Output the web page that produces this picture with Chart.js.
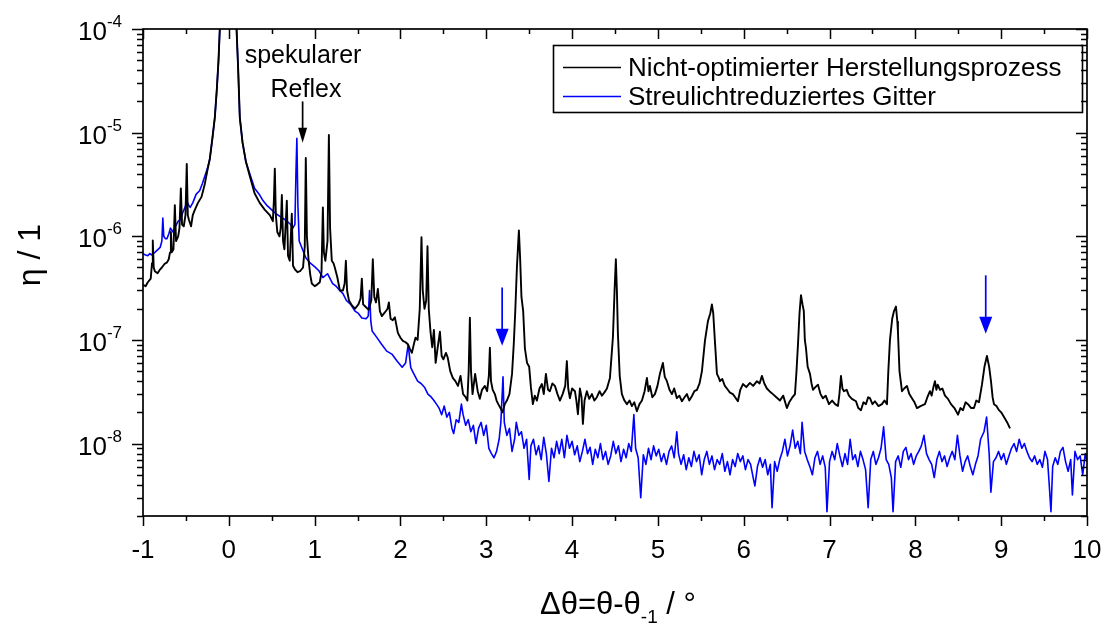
<!DOCTYPE html>
<html>
<head>
<meta charset="utf-8">
<script src="https://cdn.jsdelivr.net/npm/chart.js@4.4.1/dist/chart.umd.min.js"></script>
<style>
    html, body { margin: 0; padding: 0; background: #fff; }
    #wrap { width: 1109px; height: 626px; position: relative; }
</style>
</head>
<body>
<div id="wrap"><canvas id="eta-chart"></canvas></div>
<script>
// Messreihen: [Δθ in °, η]
const nichtOptimiert = [
    [-1.00, 3.4e-7], [-0.97, 3.3e-7], [-0.944, 3.6e-7], [-0.91, 3.9e-7], [-0.895, 5.5e-7],
    [-0.886, 9.1e-7], [-0.875, 5.0e-7], [-0.862, 4.6e-7], [-0.83, 4.4e-7], [-0.80, 4.8e-7],
    [-0.78, 5.0e-7], [-0.75, 5.4e-7], [-0.72, 5.6e-7], [-0.70, 6.0e-7], [-0.685, 7.0e-7],
    [-0.675, 1.1e-6], [-0.665, 7.0e-7], [-0.645, 7.5e-7], [-0.629, 2.0e-6], [-0.615, 9.0e-7],
    [-0.59, 1.0e-6], [-0.575, 1.2e-6], [-0.559, 2.9e-6], [-0.545, 1.3e-6], [-0.525, 1.25e-6],
    [-0.505, 1.6e-6], [-0.49, 5.0e-6], [-0.478, 1.6e-6], [-0.466, 1.45e-6], [-0.44, 1.25e-6],
    [-0.42, 1.6e-6], [-0.396, 1.8e-6], [-0.36, 2.1e-6], [-0.318, 2.4e-6], [-0.28, 3.2e-6],
    [-0.25, 4.3e-6], [-0.221, 5.6e-6], [-0.19, 9.0e-6], [-0.163, 1.4e-5], [-0.14, 2.6e-5],
    [-0.12, 5.0e-5], [-0.105, 1.0e-4], [-0.06, 3.0e-4], [0.0, 6.0e-4], [0.05, 3.0e-4],
    [0.09, 1.0e-4], [0.108, 4.3e-5], [0.128, 1.4e-5], [0.16, 8.0e-6], [0.2, 5.2e-6],
    [0.245, 3.8e-6], [0.30, 2.6e-6], [0.36, 2.1e-6], [0.42, 1.8e-6], [0.478, 1.6e-6],
    [0.513, 1.4e-6], [0.525, 2.2e-6], [0.536, 4.5e-6], [0.548, 1.6e-6], [0.565, 1.1e-6],
    [0.59, 1.0e-6], [0.605, 1.2e-6], [0.618, 2.5e-6], [0.632, 9.0e-7], [0.648, 7.5e-7],
    [0.676, 2.2e-6], [0.69, 6.5e-7], [0.71, 5.8e-7], [0.734, 1.65e-6], [0.748, 5.2e-7],
    [0.77, 4.8e-7], [0.80, 4.5e-7], [0.83, 4.6e-7], [0.865, 5.0e-7], [0.885, 8.0e-7],
    [0.897, 5.7e-6], [0.91, 1.0e-6], [0.93, 5.8e-7], [0.95, 4.2e-7], [0.967, 3.5e-7],
    [1.00, 3.3e-7], [1.026, 3.4e-7], [1.06, 3.6e-7], [1.08, 4.5e-7], [1.096, 1.9e-6],
    [1.108, 7.0e-7], [1.125, 5.8e-7], [1.15, 9.0e-7], [1.166, 9.5e-6], [1.18, 1.2e-6],
    [1.20, 5.8e-7], [1.22, 5.5e-7], [1.235, 5.0e-7], [1.265, 4.0e-7], [1.294, 3.0e-7],
    [1.33, 3.0e-7], [1.35, 3.5e-7], [1.364, 5.8e-7], [1.378, 3.0e-7], [1.40, 2.4e-7],
    [1.434, 2.15e-7], [1.47, 2.0e-7], [1.51, 2.2e-7], [1.535, 2.5e-7], [1.55, 3.9e-7],
    [1.565, 2.2e-7], [1.59, 2.1e-7], [1.63, 1.95e-7], [1.66, 2.4e-7], [1.678, 6.0e-7],
    [1.695, 2.6e-7], [1.715, 2.3e-7], [1.737, 3.1e-7], [1.76, 1.9e-7], [1.783, 1.7e-7],
    [1.82, 1.85e-7], [1.85, 2.0e-7], [1.865, 2.3e-7], [1.885, 1.6e-7], [1.91, 1.55e-7],
    [1.935, 1.65e-7], [1.97, 1.17e-7], [2.00, 1.05e-7], [2.028, 9.8e-8], [2.06, 9.5e-8],
    [2.086, 9.1e-8], [2.11, 8.2e-8], [2.133, 7.5e-8], [2.155, 9.0e-8], [2.175, 1.05e-7],
    [2.20, 1.0e-7], [2.225, 2.0e-7], [2.245, 9.8e-7], [2.26, 3.0e-7], [2.28, 2.0e-7],
    [2.30, 2.4e-7], [2.315, 8.0e-7], [2.33, 2.0e-7], [2.35, 1.2e-7], [2.37, 8.5e-8],
    [2.39, 1.25e-7], [2.41, 6.0e-8], [2.43, 8.0e-8], [2.46, 1.2e-7], [2.48, 7.0e-8],
    [2.50, 6.5e-8], [2.53, 7.5e-8], [2.55, 6.8e-8], [2.58, 5.0e-8], [2.61, 4.3e-8],
    [2.64, 4.0e-8], [2.67, 3.6e-8], [2.70, 4.5e-8], [2.73, 3.0e-8], [2.76, 2.8e-8],
    [2.78, 2.6e-8], [2.795, 5.0e-8], [2.809, 1.64e-7], [2.822, 5.0e-8], [2.84, 3.0e-8],
    [2.87, 4.7e-8], [2.90, 3.2e-8], [2.925, 2.7e-8], [2.95, 3.3e-8], [2.984, 3.6e-8],
    [3.01, 3.2e-8], [3.03, 4.5e-8], [3.042, 8.4e-8], [3.055, 4.0e-8], [3.075, 3.3e-8],
    [3.10, 3.0e-8], [3.12, 2.6e-8], [3.14, 2.4e-8], [3.165, 2.2e-8], [3.19, 2.0e-8],
    [3.215, 2.4e-8], [3.24, 2.6e-8], [3.27, 3.0e-8], [3.30, 4.7e-8], [3.32, 9.0e-8],
    [3.338, 1.9e-7], [3.357, 5.0e-7], [3.38, 1.14e-6], [3.395, 6.0e-7], [3.41, 2.6e-7],
    [3.43, 1.9e-7], [3.45, 8.3e-8], [3.475, 6.0e-8], [3.50, 5.5e-8], [3.52, 3.5e-8],
    [3.543, 2.4e-8], [3.565, 2.9e-8], [3.59, 2.6e-8], [3.62, 3.4e-8], [3.648, 3.75e-8],
    [3.67, 3.0e-8], [3.695, 4.7e-8], [3.72, 3.3e-8], [3.741, 3.2e-8], [3.77, 3.8e-8],
    [3.80, 3.6e-8], [3.83, 3.0e-8], [3.858, 2.6e-8], [3.89, 3.0e-8], [3.92, 3.6e-8],
    [3.939, 6.25e-8], [3.955, 3.4e-8], [3.974, 2.74e-8], [4.00, 3.4e-8], [4.033, 3.2e-8],
    [4.05, 2.6e-8], [4.068, 1.92e-8], [4.091, 3.4e-8], [4.11, 2.8e-8], [4.126, 1.55e-8],
    [4.145, 2.6e-8], [4.172, 3.2e-8], [4.20, 2.7e-8], [4.231, 3.0e-8], [4.26, 2.6e-8],
    [4.289, 2.8e-8], [4.32, 3.2e-8], [4.347, 2.9e-8], [4.375, 3.1e-8], [4.406, 3.4e-8],
    [4.441, 4.3e-8], [4.476, 1.07e-7], [4.495, 3.0e-7], [4.510, 6.0e-7], [4.522, 3.0e-7],
    [4.534, 1.14e-7], [4.555, 4.5e-8], [4.58, 3.0e-8], [4.61, 2.6e-8], [4.639, 2.4e-8],
    [4.67, 2.6e-8], [4.697, 2.3e-8], [4.725, 2.5e-8], [4.755, 2.05e-8], [4.785, 2.4e-8],
    [4.814, 2.6e-8], [4.845, 3.2e-8], [4.872, 4.3e-8], [4.89, 3.2e-8], [4.907, 3.6e-8],
    [4.935, 2.8e-8], [4.965, 3.0e-8], [4.995, 3.6e-8], [5.023, 4.7e-8], [5.058, 6.0e-8],
    [5.08, 4.4e-8], [5.105, 4.0e-8], [5.135, 3.3e-8], [5.163, 3.0e-8], [5.19, 3.4e-8],
    [5.221, 2.74e-8], [5.25, 2.9e-8], [5.28, 2.56e-8], [5.31, 2.8e-8], [5.338, 3.0e-8],
    [5.365, 2.6e-8], [5.396, 2.86e-8], [5.425, 3.2e-8], [5.455, 3.3e-8], [5.485, 3.8e-8],
    [5.513, 5.0e-8], [5.548, 9.8e-8], [5.583, 1.52e-7], [5.61, 1.8e-7], [5.629, 2.2e-7],
    [5.645, 1.8e-7], [5.664, 9.8e-8], [5.688, 4.7e-8], [5.71, 4.3e-8], [5.723, 4.0e-8],
    [5.75, 4.2e-8], [5.78, 3.6e-8], [5.804, 3.4e-8], [5.84, 3.1e-8], [5.874, 3.0e-8],
    [5.90, 2.8e-8], [5.932, 2.56e-8], [5.96, 3.3e-8], [5.991, 3.75e-8], [6.03, 3.5e-8],
    [6.072, 3.85e-8], [6.11, 3.6e-8], [6.154, 4.0e-8], [6.185, 3.8e-8], [6.212, 4.5e-8],
    [6.24, 3.8e-8], [6.27, 3.4e-8], [6.30, 3.2e-8], [6.34, 3.0e-8], [6.38, 2.8e-8],
    [6.422, 2.6e-8], [6.46, 2.9e-8], [6.503, 2.2e-8], [6.53, 2.5e-8], [6.56, 2.74e-8],
    [6.597, 3.0e-8], [6.615, 5.0e-8], [6.632, 9.0e-8], [6.65, 1.8e-7], [6.667, 2.7e-7],
    [6.685, 2.2e-7], [6.70, 1.9e-7], [6.712, 1.0e-7], [6.725, 8.4e-8], [6.745, 5.5e-8],
    [6.772, 4.7e-8], [6.79, 3.8e-8], [6.807, 3.3e-8], [6.835, 3.5e-8], [6.865, 3.7e-8],
    [6.895, 3.0e-8], [6.923, 2.74e-8], [6.955, 2.9e-8], [6.993, 2.4e-8], [7.03, 2.6e-8],
    [7.065, 2.4e-8], [7.098, 2.3e-8], [7.115, 3.0e-8], [7.133, 4.5e-8], [7.15, 3.4e-8],
    [7.168, 3.2e-8], [7.20, 3.3e-8], [7.226, 2.9e-8], [7.26, 2.7e-8], [7.308, 2.56e-8],
    [7.335, 2.2e-8], [7.366, 2.1e-8], [7.395, 2.5e-8], [7.424, 2.4e-8], [7.45, 2.8e-8],
    [7.471, 2.74e-8], [7.50, 2.4e-8], [7.529, 2.56e-8], [7.57, 2.3e-8], [7.611, 2.4e-8],
    [7.64, 2.6e-8], [7.669, 2.4e-8], [7.685, 5.0e-8], [7.704, 1.0e-7], [7.73, 1.6e-7],
    [7.751, 1.9e-7], [7.774, 2.1e-7], [7.79, 1.5e-7], [7.797, 1.2e-7], [7.815, 5.0e-8],
    [7.844, 3.2e-8], [7.87, 3.4e-8], [7.902, 3.6e-8], [7.93, 3.0e-8], [7.96, 2.74e-8],
    [7.99, 2.5e-8], [8.019, 2.2e-8], [8.06, 2.3e-8], [8.112, 2.4e-8], [8.14, 2.8e-8],
    [8.17, 3.2e-8], [8.19, 2.9e-8], [8.21, 3.5e-8], [8.228, 4.0e-8], [8.245, 3.3e-8],
    [8.26, 3.7e-8], [8.287, 3.3e-8], [8.315, 3.4e-8], [8.345, 2.9e-8], [8.38, 2.7e-8],
    [8.415, 2.4e-8], [8.455, 2.2e-8], [8.497, 1.9e-8], [8.525, 2.2e-8], [8.555, 2.1e-8],
    [8.585, 2.5e-8], [8.613, 2.4e-8], [8.65, 2.2e-8], [8.683, 2.2e-8], [8.71, 2.6e-8],
    [8.741, 2.5e-8], [8.776, 3.7e-8], [8.805, 5.5e-8], [8.834, 7.0e-8], [8.86, 5.5e-8],
    [8.881, 4.0e-8], [8.90, 2.8e-8], [8.916, 2.4e-8], [8.945, 2.3e-8], [8.974, 2.1e-8],
    [9.00, 2.0e-8], [9.033, 1.8e-8], [9.07, 1.6e-8], [9.103, 1.4e-8]
];

const streulichtReduziert = [
    [-1.00, 6.8e-7], [-0.97, 6.6e-7], [-0.944, 6.5e-7], [-0.92, 6.8e-7], [-0.90, 6.6e-7],
    [-0.862, 7.0e-7], [-0.83, 7.4e-7], [-0.80, 7.8e-7], [-0.78, 9.0e-7], [-0.769, 1.5e-6],
    [-0.758, 1.0e-6], [-0.74, 9.5e-7], [-0.72, 9.5e-7], [-0.70, 1.05e-6], [-0.68, 1.2e-6],
    [-0.65, 1.1e-6], [-0.62, 1.25e-6], [-0.59, 1.4e-6], [-0.56, 1.45e-6], [-0.536, 1.7e-6],
    [-0.51, 1.9e-6], [-0.49, 2.2e-6], [-0.47, 2.0e-6], [-0.45, 1.9e-6], [-0.42, 2.1e-6],
    [-0.38, 2.55e-6], [-0.34, 2.75e-6], [-0.31, 3.2e-6], [-0.28, 3.8e-6], [-0.25, 4.5e-6],
    [-0.221, 5.6e-6], [-0.19, 9.0e-6], [-0.163, 1.4e-5], [-0.14, 2.6e-5], [-0.12, 5.0e-5],
    [-0.105, 1.0e-4], [-0.06, 3.0e-4], [0.0, 6.0e-4], [0.05, 3.0e-4], [0.09, 1.0e-4],
    [0.108, 4.3e-5], [0.128, 1.4e-5], [0.16, 8.0e-6], [0.2, 5.2e-6], [0.245, 4.0e-6],
    [0.30, 2.9e-6], [0.36, 2.5e-6], [0.40, 2.2e-6], [0.44, 2.0e-6], [0.50, 1.8e-6],
    [0.55, 1.65e-6], [0.60, 1.55e-6], [0.67, 1.42e-6], [0.72, 1.3e-6], [0.746, 1.2e-6],
    [0.77, 1.3e-6], [0.782, 4.0e-6], [0.793, 8.8e-6], [0.805, 2.0e-6], [0.82, 9.0e-7],
    [0.85, 7.8e-7], [0.897, 6.2e-7], [0.95, 5.5e-7], [1.00, 5.1e-7], [1.05, 4.65e-7],
    [1.096, 4.0e-7], [1.15, 4.35e-7], [1.21, 3.5e-7], [1.25, 3.3e-7], [1.294, 3.0e-7],
    [1.33, 2.8e-7], [1.37, 2.4e-7], [1.42, 2.2e-7], [1.47, 1.9e-7], [1.51, 1.8e-7],
    [1.55, 1.63e-7], [1.60, 1.6e-7], [1.625, 1.7e-7], [1.64, 3.0e-7], [1.655, 1.5e-7],
    [1.67, 1.22e-7], [1.72, 1.07e-7], [1.78, 9.1e-8], [1.84, 7.8e-8], [1.90, 7.3e-8],
    [1.96, 6.25e-8], [2.02, 5.45e-8], [2.06, 6.0e-8], [2.09, 9.0e-8], [2.12, 5.4e-8],
    [2.15, 4.8e-8], [2.20, 4.0e-8], [2.24, 3.8e-8], [2.28, 3.5e-8], [2.32, 3.0e-8],
    [2.36, 2.8e-8], [2.39, 2.6e-8], [2.42, 2.4e-8], [2.45, 2.2e-8], [2.48, 1.9e-8],
    [2.51, 2.3e-8], [2.54, 1.8e-8], [2.57, 2.0e-8], [2.60, 1.4e-8], [2.62, 1.25e-8],
    [2.65, 1.7e-8], [2.68, 1.6e-8], [2.71, 2.4e-8], [2.73, 1.9e-8], [2.76, 1.5e-8],
    [2.79, 1.7e-8], [2.82, 1.3e-8], [2.85, 1.5e-8], [2.88, 1.0e-8], [2.91, 1.4e-8],
    [2.94, 1.6e-8], [2.97, 1.2e-8], [3.00, 1.5e-8], [3.03, 9.0e-9], [3.06, 8.0e-9],
    [3.09, 7.3e-9], [3.12, 8.4e-9], [3.15, 1.1e-8], [3.17, 1.6e-8], [3.195, 4.4e-8],
    [3.21, 1.6e-8], [3.24, 1.2e-8], [3.27, 1.4e-8], [3.30, 8.4e-9], [3.33, 1.1e-8],
    [3.35, 1.6e-8], [3.38, 1.2e-8], [3.41, 1.3e-8], [3.44, 9.0e-9], [3.47, 1.1e-8],
    [3.50, 4.5e-9], [3.52, 9.5e-9], [3.55, 1.1e-8], [3.58, 7.8e-9], [3.61, 9.5e-9],
    [3.64, 7.0e-9], [3.67, 1.15e-8], [3.70, 8.0e-9], [3.73, 4.3e-9], [3.76, 9.0e-9],
    [3.79, 7.3e-9], [3.82, 1.05e-8], [3.85, 8.0e-9], [3.88, 1.1e-8], [3.91, 7.3e-9],
    [3.94, 1.2e-8], [3.97, 9.0e-9], [4.00, 1.05e-8], [4.03, 7.8e-9], [4.06, 9.5e-9],
    [4.09, 6.7e-9], [4.12, 8.4e-9], [4.15, 1.1e-8], [4.18, 8.0e-9], [4.21, 9.2e-9],
    [4.24, 6.3e-9], [4.27, 8.8e-9], [4.30, 7.3e-9], [4.33, 1.0e-8], [4.36, 7.0e-9],
    [4.39, 8.4e-9], [4.42, 6.3e-9], [4.45, 7.6e-9], [4.48, 1.05e-8], [4.51, 8.0e-9],
    [4.54, 9.5e-9], [4.57, 6.7e-9], [4.60, 8.8e-9], [4.63, 7.3e-9], [4.66, 1.0e-8],
    [4.69, 8.4e-9], [4.72, 1.9e-8], [4.74, 9.0e-9], [4.77, 7.3e-9], [4.80, 3.0e-9],
    [4.83, 7.8e-9], [4.86, 6.3e-9], [4.89, 9.0e-9], [4.92, 7.0e-9], [4.95, 9.5e-9],
    [4.98, 7.6e-9], [5.01, 8.8e-9], [5.04, 6.7e-9], [5.07, 8.0e-9], [5.10, 6.3e-9],
    [5.13, 8.4e-9], [5.16, 9.5e-9], [5.19, 7.3e-9], [5.22, 1.3e-8], [5.24, 8.0e-9],
    [5.27, 6.3e-9], [5.30, 7.8e-9], [5.33, 5.6e-9], [5.36, 7.3e-9], [5.39, 6.0e-9],
    [5.42, 8.4e-9], [5.45, 6.7e-9], [5.48, 7.8e-9], [5.51, 5.0e-9], [5.54, 7.0e-9],
    [5.57, 8.4e-9], [5.60, 6.3e-9], [5.63, 7.6e-9], [5.66, 5.6e-9], [5.69, 7.0e-9],
    [5.72, 6.3e-9], [5.75, 8.0e-9], [5.78, 5.4e-9], [5.81, 6.7e-9], [5.84, 5.0e-9],
    [5.87, 7.0e-9], [5.90, 6.0e-9], [5.93, 8.0e-9], [5.96, 6.7e-9], [5.99, 7.6e-9],
    [6.02, 5.6e-9], [6.05, 7.0e-9], [6.08, 6.3e-9], [6.11, 4.7e-9], [6.13, 3.9e-9],
    [6.16, 6.0e-9], [6.19, 7.3e-9], [6.22, 5.9e-9], [6.25, 7.0e-9], [6.28, 5.0e-9],
    [6.31, 6.3e-9], [6.33, 2.4e-9], [6.36, 6.7e-9], [6.39, 5.4e-9], [6.42, 7.0e-9],
    [6.45, 8.4e-9], [6.48, 1.1e-8], [6.51, 7.6e-9], [6.54, 9.5e-9], [6.57, 1.35e-8],
    [6.60, 9.0e-9], [6.63, 1.05e-8], [6.66, 8.0e-9], [6.68, 1.6e-8], [6.71, 8.4e-9],
    [6.74, 7.0e-9], [6.77, 6.0e-9], [6.80, 5.0e-9], [6.83, 7.3e-9], [6.86, 8.4e-9],
    [6.89, 6.3e-9], [6.92, 7.6e-9], [6.95, 5.9e-9], [6.97, 2.2e-9], [7.00, 6.7e-9],
    [7.03, 8.4e-9], [7.06, 7.0e-9], [7.09, 1.0e-8], [7.12, 7.6e-9], [7.15, 6.0e-9],
    [7.18, 8.0e-9], [7.21, 6.3e-9], [7.24, 1.1e-8], [7.27, 7.0e-9], [7.30, 7.8e-9],
    [7.33, 6.0e-9], [7.36, 8.4e-9], [7.39, 7.0e-9], [7.42, 5.6e-9], [7.45, 2.4e-9],
    [7.48, 7.0e-9], [7.51, 8.4e-9], [7.54, 6.3e-9], [7.57, 7.3e-9], [7.60, 9.0e-9],
    [7.63, 1.45e-8], [7.66, 7.0e-9], [7.69, 6.3e-9], [7.72, 4.7e-9], [7.74, 2.2e-9],
    [7.77, 6.7e-9], [7.80, 7.6e-9], [7.83, 5.9e-9], [7.86, 8.4e-9], [7.89, 9.2e-9],
    [7.92, 7.0e-9], [7.95, 8.0e-9], [7.98, 6.3e-9], [8.01, 7.6e-9], [8.04, 8.4e-9],
    [8.07, 9.5e-9], [8.10, 1.2e-8], [8.13, 8.0e-9], [8.16, 7.0e-9], [8.19, 6.3e-9],
    [8.22, 4.7e-9], [8.25, 7.0e-9], [8.28, 8.4e-9], [8.31, 6.7e-9], [8.34, 7.6e-9],
    [8.37, 6.0e-9], [8.40, 7.3e-9], [8.43, 8.4e-9], [8.46, 7.0e-9], [8.49, 1.2e-8],
    [8.52, 7.6e-9], [8.55, 5.4e-9], [8.58, 6.7e-9], [8.61, 7.6e-9], [8.64, 6.0e-9],
    [8.67, 5.0e-9], [8.70, 6.3e-9], [8.73, 7.6e-9], [8.76, 1.1e-8], [8.80, 1.3e-8],
    [8.83, 1.8e-8], [8.86, 8.0e-9], [8.88, 3.4e-9], [8.91, 6.7e-9], [8.94, 7.3e-9],
    [8.97, 8.4e-9], [9.00, 7.0e-9], [9.03, 8.0e-9], [9.06, 6.3e-9], [9.09, 7.6e-9],
    [9.12, 9.0e-9], [9.15, 1.0e-8], [9.18, 8.4e-9], [9.21, 1.1e-8], [9.24, 9.0e-9],
    [9.27, 1.0e-8], [9.30, 8.4e-9], [9.33, 7.3e-9], [9.36, 6.7e-9], [9.39, 7.6e-9],
    [9.42, 6.3e-9], [9.45, 7.0e-9], [9.48, 5.9e-9], [9.51, 8.4e-9], [9.54, 7.0e-9],
    [9.56, 4.0e-9], [9.58, 2.2e-9], [9.60, 6.0e-9], [9.63, 7.3e-9], [9.66, 6.3e-9],
    [9.69, 8.4e-9], [9.72, 9.2e-9], [9.75, 6.7e-9], [9.78, 5.4e-9], [9.81, 7.0e-9],
    [9.83, 3.2e-9], [9.86, 8.4e-9], [9.89, 7.0e-9], [9.92, 7.6e-9], [9.95, 5.0e-9],
    [9.98, 8.0e-9], [10.0, 6.7e-9]
];

const legendLabels = ['Nicht-optimierter Herstellungsprozess', 'Streulichtreduziertes Gitter'];
const xTickLabels = [-1, 0, 1, 2, 3, 4, 5, 6, 7, 8, 9, 10];
const yDecades = [-8, -7, -6, -5, -4];

// Pfeile: x-Position und Anfang/Ende in Datenkoordinaten
const pfeile = [
    { x: 0.86, von: 2.0e-5, bis: 8.0e-6, farbe: '#000000' },
    { x: 3.185, von: 3.2e-7, bis: 8.8e-8, farbe: '#0000ff' },
    { x: 8.82, von: 4.2e-7, bis: 1.15e-7, farbe: '#0000ff' }
];

const FONT = '"Liberation Sans", Arial, Helvetica, sans-serif';

function toPoints(rows) {
    return rows.map(r => ({ x: r[0], y: r[1] }));
}

function drawArrow(ctx, x, y0, y1, color, headW, headH) {
    ctx.strokeStyle = color;
    ctx.fillStyle = color;
    ctx.lineWidth = 1.7;
    ctx.beginPath();
    ctx.moveTo(x, y0);
    ctx.lineTo(x, y1 - headH + 2);
    ctx.stroke();
    ctx.beginPath();
    ctx.moveTo(x - headW / 2, y1 - headH);
    ctx.lineTo(x + headW / 2, y1 - headH);
    ctx.lineTo(x, y1);
    ctx.closePath();
    ctx.fill();
}

const achsenPlugin = {
    id: 'achsen',
    afterDatasetsDraw(chart) {
        const ctx = chart.ctx;
        const { left, right, top, bottom } = chart.chartArea;
        const xs = chart.scales.x;
        const ys = chart.scales.y;
        ctx.save();

        // Rahmen
        ctx.strokeStyle = '#000';
        ctx.lineWidth = 1.7;
        ctx.strokeRect(left, top, right - left, bottom - top);

        // x-Ticks: unten nach außen, oben nach innen
        ctx.lineWidth = 1.5;
        for (let v = -1; v <= 10.001; v += 0.5) {
            const px = Math.round(xs.getPixelForValue(v)) + 0.5;
            const len = Number.isInteger(v) ? 10 : 5;
            ctx.beginPath();
            ctx.moveTo(px, bottom);
            ctx.lineTo(px, bottom + len);
            ctx.moveTo(px, top);
            ctx.lineTo(px, top + len);
            ctx.stroke();
        }

        // y-Ticks: links nach außen, rechts nach innen
        for (let e = -9; e <= -4; e++) {
            for (let m = 1; m <= 9; m++) {
                const val = m * Math.pow(10, e);
                if (val < 1.99e-9 || val > 1.001e-4) continue;
                const py = Math.round(ys.getPixelForValue(val)) + 0.5;
                const len = m === 1 ? 11 : 6;
                ctx.beginPath();
                ctx.moveTo(left, py);
                ctx.lineTo(left - len, py);
                ctx.moveTo(right, py);
                ctx.lineTo(right - len, py);
                ctx.stroke();
            }
        }

        // x-Beschriftung
        ctx.fillStyle = '#000';
        ctx.font = '26px ' + FONT;
        ctx.textAlign = 'center';
        ctx.textBaseline = 'alphabetic';
        xTickLabels.forEach(v => {
            ctx.fillText(String(v), xs.getPixelForValue(v), bottom + 42);
        });

        // y-Beschriftung 10^n
        const labelRight = left - 21;
        yDecades.forEach(e => {
            const py = ys.getPixelForValue(Math.pow(10, e));
            ctx.font = '17px ' + FONT;
            const sup = String(e);
            const supW = ctx.measureText(sup).width;
            ctx.textAlign = 'left';
            ctx.fillText(sup, labelRight - supW, py - 2);
            ctx.font = '26px ' + FONT;
            ctx.textAlign = 'right';
            ctx.fillText('10', labelRight - supW, py + 11);
        });

        // Achsentitel
        ctx.font = '32px ' + FONT;
        ctx.textAlign = 'center';
        ctx.save();
        ctx.translate(40, 255);
        ctx.rotate(-Math.PI / 2);
        ctx.fillText('η / 1', 0, 0);
        ctx.restore();

        const titelY = 614;
        ctx.font = '31px ' + FONT;
        const t1 = 'Δθ=θ-θ';
        const t3 = ' / °';
        const w1 = ctx.measureText(t1).width;
        const w3 = ctx.measureText(t3).width;
        ctx.font = '19px ' + FONT;
        const t2 = '-1';
        const w2 = ctx.measureText(t2).width;
        let tx = (left + right) / 2 - (w1 + w2 + w3) / 2 + 3;
        ctx.textAlign = 'left';
        ctx.font = '31px ' + FONT;
        ctx.fillText(t1, tx, titelY);
        tx += w1;
        ctx.font = '19px ' + FONT;
        ctx.fillText(t2, tx, titelY + 9);
        tx += w2;
        ctx.font = '31px ' + FONT;
        ctx.fillText(t3, tx, titelY);

        // Legende
        ctx.lineWidth = 1.6;
        ctx.strokeStyle = '#000';
        ctx.strokeRect(553.5, 45.5, 529, 67);
        const farben = ['#000000', '#0000ff'];
        const zeilen = [67, 96];
        ctx.font = '26px ' + FONT;
        ctx.textAlign = 'left';
        legendLabels.forEach((txt, i) => {
            ctx.strokeStyle = farben[i];
            ctx.lineWidth = 1.5;
            ctx.beginPath();
            ctx.moveTo(563, zeilen[i] + 0.5);
            ctx.lineTo(621, zeilen[i] + 0.5);
            ctx.stroke();
            ctx.fillStyle = '#000';
            ctx.fillText(txt, 628, zeilen[i] + 9);
        });

        // Anmerkung spekularer Reflex
        ctx.font = '25px ' + FONT;
        ctx.textAlign = 'center';
        ctx.fillText('spekularer', 303, 63);
        ctx.fillText('Reflex', 306, 97);

        pfeile.forEach((p, i) => {
            const px = xs.getPixelForValue(p.x);
            const w = i === 0 ? 9 : 13;
            const h = i === 0 ? 15 : 17;
            drawArrow(ctx, px, ys.getPixelForValue(p.von), ys.getPixelForValue(p.bis), p.farbe, w, h);
        });

        ctx.restore();
    }
};

const etaChart = new Chart(document.getElementById('eta-chart'), {
    type: 'line',
    data: {
        datasets: [{
            label: legendLabels[0],
            data: toPoints(nichtOptimiert),
            borderColor: '#000000',
            borderWidth: 1.9,
            pointRadius: 0,
            tension: 0,
            borderJoinStyle: 'round',
            clip: 0
        }, {
            label: legendLabels[1],
            data: toPoints(streulichtReduziert),
            borderColor: '#0000ff',
            borderWidth: 1.6,
            pointRadius: 0,
            tension: 0,
            borderJoinStyle: 'round',
            clip: 0
        }]
    },
    options: {
        responsive: true,
        maintainAspectRatio: false,
        animation: false,
        layout: {
            padding: { left: 143, right: 22, top: 29, bottom: 110 }
        },
        scales: {
            x: { type: 'linear', min: -1, max: 10, display: false },
            y: { type: 'logarithmic', min: 2e-9, max: 1e-4, display: false }
        },
        plugins: {
            legend: { display: false },
            tooltip: { enabled: false }
        }
    },
    plugins: [achsenPlugin]
});
</script>
</body>
</html>
